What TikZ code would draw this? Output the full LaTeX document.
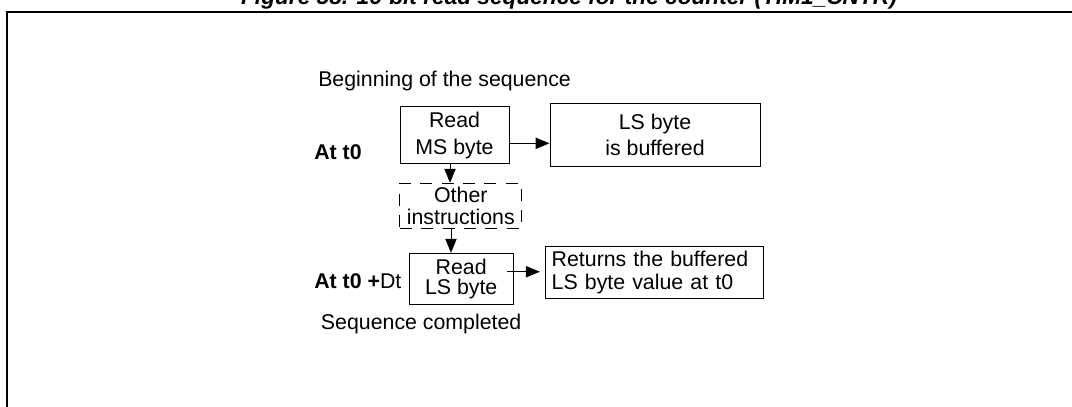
\documentclass[tikz,border=0pt]{standalone}
\usepackage{fontspec}
\setmainfont{Liberation Sans}
\usetikzlibrary{positioning, arrows.meta}

\begin{document}
\begin{tikzpicture}[
        x = 0.75pt, y = -0.75pt,
        every node/.style = {
            align = center,
            inner sep = 0pt,
            font = \fontsize{16}{20}\selectfont
        },
        box/.style = {
            draw,
            rectangle,
            line width = 0.75pt
        },
        dashbox/.style = {
            box,
            dash pattern = on 9pt off 7pt
        },
        note/.style = {
            anchor = base west
        },
        arr/.style = {
            -{Triangle[length = 10.5pt, width = 8.5pt]},
            line width = 0.75pt
        },
        frame/.style = {
            line width = 1.5pt
        }
    ]
    \clip (0,0) rectangle (1072,407);
    % caption and frame
    \node[font = \fontsize{17}{20}\selectfont\bfseries\itshape, anchor = base] (caption) at (569,5)
        {Figure 58. 16-bit read sequence for the counter (TIM1\_CNTR)};
    \draw[frame] (1080,11.5) -| (7,420);

    % labels
    \node[note] (begin) at (318,86) {Beginning of the sequence};
    \node[note, font = \fontsize{16}{20}\selectfont\bfseries] (att0) at (314,159) {At t0};
    \node[note] (att0dt) at (314,288.3) {\textbf{At t0 +}Dt};
    \node[note] (done) at (320.7,329) {Sequence completed};

    % boxes
    \node[box, minimum width = 81.75pt, minimum height = 43pt] (msread) at (454.5,135.3) {
        Read \\ MS byte
    };
    \node[box, minimum width = 157.5pt, minimum height = 47.5pt] (lsbuf) at (655,135) {
        LS byte \\ is buffered
    };
    \node[dashbox, minimum width = 91.3pt, minimum height = 33.75pt,
          font = \fontsize{16}{17}\selectfont] (other) at (460.8,205.8) {
        Other \\ instructions
    };
    \node[box, minimum width = 78.2pt, minimum height = 38.25pt,
          font = \fontsize{16}{15}\selectfont] (lsread) at (461.2,278.8) {
        Read \\ LS byte
    };
    \node[box, align = left, text width = 154.2pt, inner xsep = 4.5pt, minimum height = 39.2pt,
          font = \fontsize{16}{17}\selectfont] (result) at (654.5,272.8) {
        Returns the buffered \\ LS byte value at t0
    };

    % connectors
    \draw[arr] ([yshift = -6pt]msread.east) -- ([yshift = -6pt]msread.east -| lsbuf.west);
    \draw[arr] (msread.south -| 450,0) -- (other.north -| 450,0);
    \draw[arr] (other.south -| 451,0) -- (lsread.north -| 451,0);
    \draw[arr] ([xshift = -5pt, yshift = 5.3pt]lsread.east) -- ([xshift = -4pt, yshift = 5.3pt]lsread.east -| result.west);
\end{tikzpicture}
\end{document}
